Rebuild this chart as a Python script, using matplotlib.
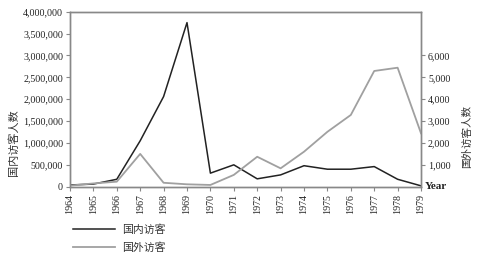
import matplotlib
matplotlib.use("Agg")
import matplotlib.pyplot as plt
from matplotlib.ticker import FuncFormatter
from matplotlib.lines import Line2D

years = list(range(1964, 1980))
domestic = [40000, 60000, 170000, 1050000, 2060000, 3750000, 310000, 500000,
            180000, 270000, 480000, 400000, 400000, 460000, 170000, 20000]
foreign = [50, 150, 230, 1500, 180, 110, 80, 540,
           1370, 840, 1600, 2510, 3280, 5290, 5440, 2440]
left_ticks = [0, 500000, 1000000, 1500000, 2000000, 2500000, 3000000, 3500000, 4000000]
right_ticks = [1000, 2000, 3000, 4000, 5000, 6000]
labels = ["国内访客", "国外访客"]

serif = "Liberation Serif"
cjk = ["Noto Sans CJK SC", "DejaVu Sans"]
spine_c = "#888888"
dark = "#222222"
grey = "#a0a0a0"

fig = plt.figure(figsize=(4.78, 2.57), dpi=100)
ax = fig.add_axes([0.1464, 0.2735, 0.7344, 0.681])
ax2 = ax.twinx()

ax.plot(years, domestic, color=dark, lw=1.1)
ax2.plot(years, foreign, color=grey, lw=1.3)

ax.set_xlim(1964, 1979)
ax.set_ylim(0, 4000000)
ax2.set_ylim(0, 8000)

ax.set_yticks(left_ticks)
ax.yaxis.set_major_formatter(FuncFormatter(lambda v, p: f"{int(v):,}"))
ax2.set_yticks(right_ticks)
ax2.yaxis.set_major_formatter(FuncFormatter(lambda v, p: f"{int(v):,}"))
ax.set_xticks(years)
ax.set_xticklabels([str(y) for y in years], rotation=90)

for a in (ax, ax2):
    for s in a.spines.values():
        s.set_color(spine_c)
        s.set_linewidth(1.0)
    a.tick_params(colors=spine_c, labelcolor="#222222", length=3, width=0.8,
                  labelsize=7.2, pad=2)
    for lab in a.get_xticklabels() + a.get_yticklabels():
        lab.set_family(serif)

fig.text(0.028, 0.445, "国内访客人数", rotation=90, ha="center", va="center",
         family=cjk, fontsize=8, color="#333333")
fig.text(0.977, 0.468, "国外访客人数", rotation=90, ha="center", va="center",
         family=cjk, fontsize=7.6, color="#333333")
ax.text(1.01, 0.0, "Year", transform=ax.transAxes, ha="left", va="center",
        family=serif, fontsize=8, fontweight="bold", color="#222222")

handles = [Line2D([], [], color=dark, lw=1.1), Line2D([], [], color=grey, lw=1.3)]
leg = fig.legend(handles, labels, loc="upper left", bbox_to_anchor=(0.153, 0.128),
                 frameon=False, prop={"family": cjk, "size": 7.8},
                 handlelength=3.9, labelspacing=0.7, handletextpad=0.6,
                 borderaxespad=0, borderpad=0)
for t in leg.get_texts():
    t.set_color("#333333")

fig.savefig("out.png", dpi=100)
